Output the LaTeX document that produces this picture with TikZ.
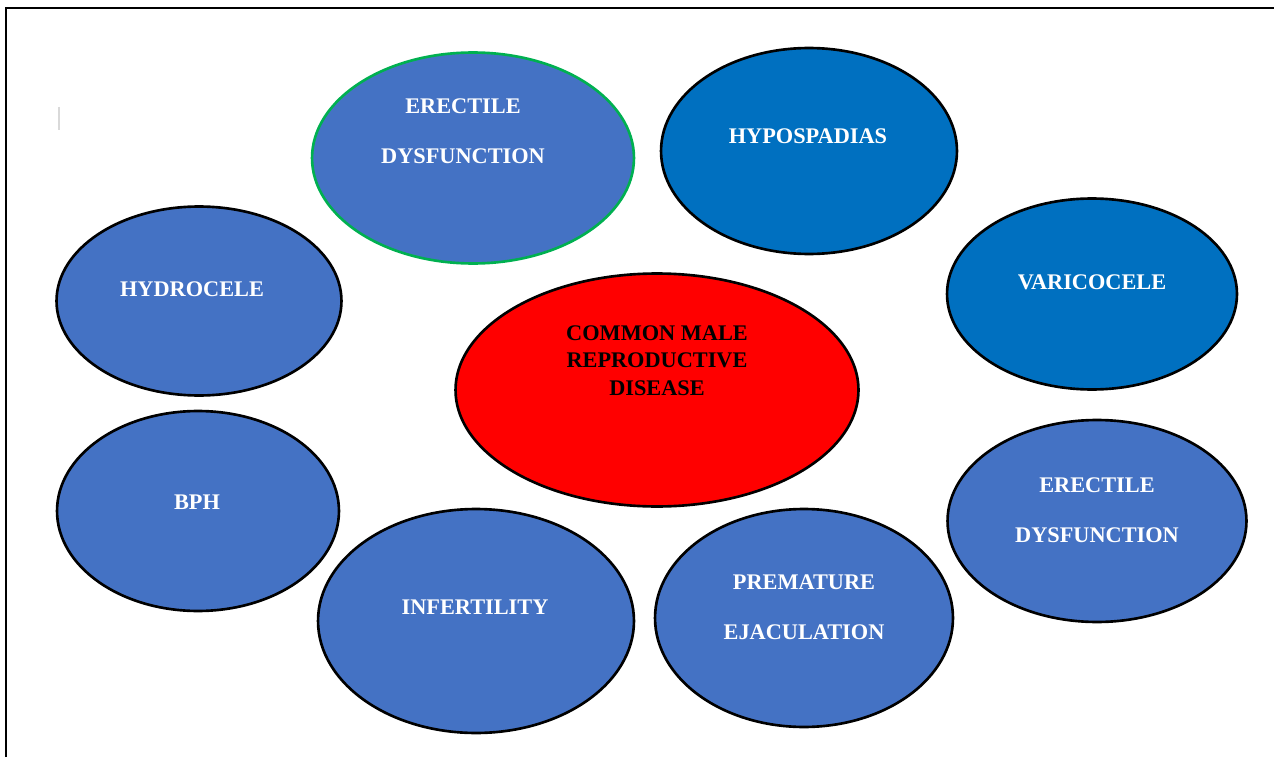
\documentclass[tikz,border=0pt]{standalone}
\usepackage{fontspec}
\setmainfont{Liberation Serif}
\usetikzlibrary{shapes.geometric}
\definecolor{paleblue}{HTML}{4472C4}
\definecolor{deepblue}{HTML}{0070C0}
\definecolor{ringgreen}{HTML}{00B050}

\begin{document}
\begin{tikzpicture}[x=0.02cm,y=-0.02cm]

\tikzset{blob/.style = {shape=ellipse,draw,line width=1.5pt,fill=paleblue,inner sep=0pt}}
\tikzset{word/.style = {text=white,font=\fontsize{12.7}{28.5}\selectfont\bfseries,align=center}}

\useasboundingbox (0,0) rectangle (1274,757);

% frame
\draw[line width=1.7pt] (6,757) -- (6,8) -- (1274,8);
\draw[black!15,line width=0.6pt] (59,107) -- (59,130);

% ellipses
\node[blob,draw=ringgreen,minimum width=6.44cm,minimum height=4.22cm] (ed1) at (473,158) {};
\node[blob,fill=deepblue,minimum width=5.92cm,minimum height=4.12cm] (hyp) at (809,151) {};
\node[blob,fill=deepblue,minimum width=5.80cm,minimum height=3.82cm] (var) at (1092,294) {};
\node[blob,minimum width=5.70cm,minimum height=3.78cm] (hyd) at (199,301) {};
\node[blob,fill=red,minimum width=8.06cm,minimum height=4.66cm] (dis) at (657,390) {};
\node[blob,minimum width=5.64cm,minimum height=4.00cm] (bph) at (198,511) {};
\node[blob,minimum width=6.32cm,minimum height=4.48cm] (inf) at (476,621) {};
\node[blob,minimum width=5.96cm,minimum height=4.36cm] (pe) at (804,618) {};
\node[blob,minimum width=5.98cm,minimum height=4.04cm] (ed2) at (1097,521) {};

% labels
\node[word] (ed1t) at (463,131.5) {ERECTILE\\DYSFUNCTION};
\node[word] (hypt) at (808,136) {HYPOSPADIAS};
\node[word] (vart) at (1092,282.5) {VARICOCELE};
\node[word] (hydt) at (192,289.5) {HYDROCELE};
\node[word,text=black,font=\fontsize{12.7}{15.6}\selectfont\bfseries] (dist) at (657,360.5) {COMMON MALE\\REPRODUCTIVE\\DISEASE};
\node[word] (bpht) at (197,502) {BPH};
\node[word] (inft) at (475,607) {INFERTILITY};
\node[word] (pet) at (804,607.5) {PREMATURE\\EJACULATION};
\node[word] (ed2t) at (1097,510.5) {ERECTILE\\DYSFUNCTION};

\end{tikzpicture}
\end{document}
